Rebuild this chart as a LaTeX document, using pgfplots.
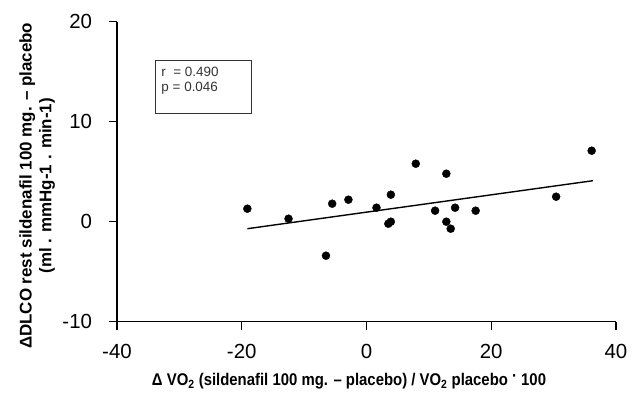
\documentclass[border=0pt]{standalone}
\usepackage{pgfplots}
\pgfplotsset{compat=1.18}
\usepackage{fontspec}
\setmainfont{Liberation Sans}
\newfontfamily\condensed[FakeStretch=0.88]{Liberation Sans}
\begin{document}
\begin{tikzpicture}
\begin{axis}[
  at={(0,0)}, anchor=south west,
  scale only axis, width=499bp, height=300bp,
  xmin=-40, xmax=40, ymin=-10, ymax=20,
  axis lines*=left,
  axis line style={line width=1.6pt},
  tick align=outside,
  major tick length=8bp,
  tick style={line width=1.4pt, black},
  xtick={-40,-20,0,20,40},
  ytick={-10,0,10,20},
  minor tick num=0,
  /pgf/number format/assume math mode=true,
  ticklabel style={font=\fontsize{20.5}{21}\selectfont},
  xticklabel style={yshift=-11bp},
  yticklabel style={xshift=-13.5bp},
  clip=false,
  xlabel={\condensed\bfseries Δ VO\textsubscript{2} (sildenafil 100 mg. – placebo) / VO\textsubscript{2} placebo \raisebox{0.45ex}{·} 100},
  xlabel style={at={(rel axis cs:0.465,-0.198)}, anchor=center, font=\fontsize{17}{18}\selectfont},
  ylabel={\bfseries ΔDLCO rest sildenafil 100 mg. – placebo\\\bfseries (ml . mmHg-1 . min-1)},
  ylabel style={at={(rel axis cs:-0.160,0.453)}, anchor=center, align=center, rotate=0, font=\fontsize{17}{20}\selectfont},
]
\addplot[only marks, mark=*, mark size=4bp, black] coordinates {
(-5.5,1.8) (-2.9,2.2) (1.6,1.4) (3.9,2.7) (3.5,-0.2) (3.9,0.0)
(7.9,5.8) (12.8,4.8) (11.0,1.1) (14.2,1.4) (12.8,0.0) (13.5,-0.7)
(17.5,1.1) (30.4,2.5) (36.1,7.1) (-6.5,-3.4) (-19.1,1.3) (-12.5,0.3)
};
\addplot[black, line width=1.4pt, mark=none] coordinates {(-19.1,-0.7) (36.3,4.1)};
\draw[line width=0.6pt, black!80] (axis cs:-33.9,16.1) rectangle (axis cs:-18.4,10.8);
\node[anchor=base west, font=\fontsize{13.5}{12}\selectfont, text=black!80, inner sep=0pt] at (axis cs:-32.9,14.55) {r\hspace{0.55em}= 0.490};
\node[anchor=base west, font=\fontsize{13.5}{12}\selectfont, text=black!80, inner sep=0pt] at (axis cs:-32.9,13.05) {p = 0.046};
\end{axis}
\path[use as bounding box] (-117bp,-70.3bp) rectangle (521bp,321.7bp);
\end{tikzpicture}
\end{document}
